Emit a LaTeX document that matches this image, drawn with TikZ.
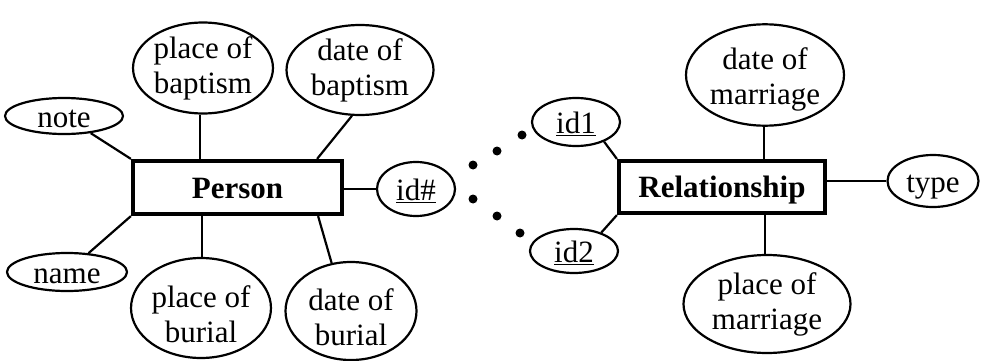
\documentclass[tikz,border=0pt]{standalone}
\usepackage{fontspec}
\setmainfont{Liberation Serif}
\usetikzlibrary{shapes.geometric}
% invisible rule that raises the top of a label, pushing its text down
\newcommand\toprule[1]{\rule{0pt}{#1}}
\begin{document}
\begin{tikzpicture}[x=1pt,y=-1pt,
  every node/.style={font=\fontsize{31}{35}\selectfont},
  attr/.style={ellipse,draw,line width=2.2pt,inner sep=0pt,align=center},
  single/.style={ellipse,draw,line width=2.2pt,inner sep=0pt,
    text height=22pt,text depth=0pt},
  entity/.style={rectangle,draw,line width=4.2pt,inner sep=0pt,
    font=\fontsize{31}{35}\selectfont\bfseries,text height=21pt,text depth=0pt},
  link/.style={line width=2.2pt},
  dot/.style={circle,fill,inner sep=0pt,minimum size=9pt}]
\useasboundingbox (0,0) rectangle (982,361);

% entities
\node[entity,minimum width=209pt,minimum height=53pt] (person) at (237.5,187.5) {Person};
\node[entity,minimum width=206pt,minimum height=52pt] (rel) at (722,187) {Relationship};

% attributes of Person
\node[single,minimum width=118pt,minimum height=36pt] (note) at (64,116) {note};
\node[attr,minimum width=134pt,minimum height=91pt] (pob) at (203,68) {place of\\baptism};
\node[attr,minimum width=147pt,minimum height=90pt] (dob) at (360,70) {date of\\baptism};
\node[single,minimum width=120pt,minimum height=38pt] (name) at (67,272) {name};
\node[attr,minimum width=132pt,minimum height=100pt] (pobur) at (201,308) {\toprule{34pt}place of\\burial};
\node[attr,minimum width=131pt,minimum height=97pt] (dobur) at (351,311) {\toprule{34pt}date of\\burial};
\node[single,minimum width=78pt,minimum height=54pt] (idp) at (416,189) {\underline{id\#}};

% attributes of Relationship
\node[single,minimum width=88pt,minimum height=48pt] (id1) at (576,122) {\underline{id1}};
\node[single,minimum width=88pt,minimum height=44pt] (id2) at (574,251) {\underline{id2}};
\node[attr,minimum width=158pt,minimum height=100pt] (dom) at (765,75) {\toprule{30pt}date of\\marriage};
\node[attr,minimum width=167pt,minimum height=98pt] (pom) at (767,304) {place of\\marriage};
\node[single,minimum width=91pt,minimum height=52pt] (type) at (933,181) {type};

% dotted correspondence between the identifiers
\node[dot] (u1) at (473,165) {};
\node[dot] (u2) at (497,151) {};
\node[dot] (u3) at (522,135) {};
\node[dot] (l1) at (473,199) {};
\node[dot] (l2) at (497,216) {};
\node[dot] (l3) at (520,233) {};

% Person links
\draw[link] (note) -- (person.north west);
\draw[link] (pob.south -| 200,0) -- (person.north -| 200,0);
\draw[link] (dob.260) -- ([xshift=-27pt]person.north east);
\draw[link] (name) -- (person.south west);
\draw[link] (pobur.north -| 202,0) -- (person.south -| 202,0);
\draw[link] (dobur.112) -- ([xshift=-26pt]person.south east);
\draw[link] (person.east |- idp) -- (idp.west);

% Relationship links
\draw[link] (id1.-35) -- (rel.north west);
\draw[link] (id2.34) -- (rel.south west);
\draw[link] (dom.south -| 764,0) -- (rel.north -| 764,0);
\draw[link] (pom.north -| 765,0) -- (rel.south -| 765,0);
\draw[link] (rel.east |- type) -- (type.west);
\end{tikzpicture}
\end{document}
